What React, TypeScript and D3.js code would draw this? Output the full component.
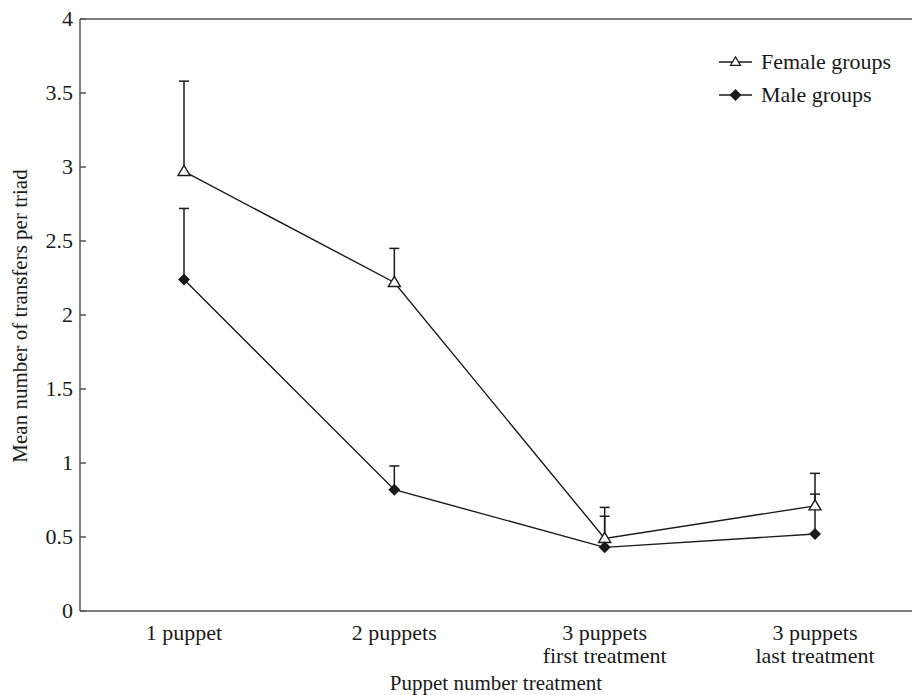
import React from "react";
import * as d3 from "d3";

const categories = ["1 puppet", "2 puppets", "3 puppets first treatment", "3 puppets last treatment"];
const categoryLines = [["1 puppet"], ["2 puppets"], ["3 puppets", "first treatment"], ["3 puppets", "last treatment"]];
const femaleMeans = [2.97, 2.22, 0.49, 0.71];
const femaleUpper = [3.58, 2.45, 0.70, 0.93];
const maleMeans = [2.24, 0.82, 0.43, 0.52];
const maleUpper = [2.72, 0.98, 0.64, 0.79];
const yTicks = [0, 0.5, 1, 1.5, 2, 2.5, 3, 3.5, 4];
const yTickLabels = ["0", "0.5", "1", "1.5", "2", "2.5", "3", "3.5", "4"];

const W = 912, H = 695;
const left = 80, right = 912, top = 19, bottom = 611;
const FONT = "'Liberation Serif', 'Times New Roman', serif";
const AXIS = "#555";
const INK = "#1a1a1a";

const triPath = "M0,-6L6,4L-6,4Z";
const diaPath = "M0,-6L6,0L0,6L-6,0Z";

export default function App() {
  const x = d3.scalePoint<string>().domain(categories).range([184, 815]);
  const y = d3.scaleLinear().domain([0, 4]).range([bottom, top]);
  const line = d3.line<number>().x((_, i) => x(categories[i])!).y((d) => y(d));

  const errBars = (means: number[], ups: number[], key: string) =>
    means.map((m, i) => {
      const cx = x(categories[i])!;
      return (
        <g key={key + i} stroke={INK} strokeWidth={1.5}>
          <line x1={cx} x2={cx} y1={y(m)} y2={y(ups[i])} />
          <line x1={cx - 5} x2={cx + 5} y1={y(ups[i])} y2={y(ups[i])} />
        </g>
      );
    });

  return (
    <svg width={W} height={H} style={{ position: "absolute", left: 0, top: 0, background: "#fff" }} fontFamily={FONT}>
      {/* axes frame */}
      <line x1={left} x2={right} y1={top} y2={top} stroke={AXIS} strokeWidth={1.5} />
      <line x1={left} x2={right} y1={bottom} y2={bottom} stroke={AXIS} strokeWidth={1.5} />
      <line x1={left} x2={left} y1={top} y2={bottom} stroke={AXIS} strokeWidth={1.5} />
      {yTicks.map((t, i) => (
        <g key={"yt" + i}>
          <line x1={left} x2={left + 6} y1={y(t)} y2={y(t)} stroke={AXIS} strokeWidth={1.5} />
          <text x={left - 7} y={y(t)} dy="0.33em" textAnchor="end" fontSize={22} fill={INK}>
            {yTickLabels[i]}
          </text>
        </g>
      ))}
      {categoryLines.map((ls, i) => (
        <text key={"xl" + i} x={x(categories[i])!} y={640} textAnchor="middle" fontSize={22} fill={INK}>
          {ls.map((l, j) => (
            <tspan key={j} x={x(categories[i])!} dy={j === 0 ? 0 : 23}>
              {l}
            </tspan>
          ))}
        </text>
      ))}
      <text x={496} y={690} textAnchor="middle" fontSize={21} fill={INK}>
        Puppet number treatment
      </text>
      <text transform={`translate(27,${316}) rotate(-90)`} textAnchor="middle" fontSize={21} fill={INK}>
        Mean number of transfers per triad
      </text>

      {/* error bars */}
      {errBars(femaleMeans, femaleUpper, "fe")}
      {errBars(maleMeans, maleUpper, "me")}

      {/* lines */}
      <path d={line(femaleMeans)!} fill="none" stroke={INK} strokeWidth={1.4} />
      <path d={line(maleMeans)!} fill="none" stroke={INK} strokeWidth={1.4} />

      {/* markers */}
      {femaleMeans.map((m, i) => (
        <path key={"fm" + i} d={triPath} transform={`translate(${x(categories[i])},${y(m)})`} fill="#fff" stroke={INK} strokeWidth={1.4} />
      ))}
      {maleMeans.map((m, i) => (
        <path key={"mm" + i} d={diaPath} transform={`translate(${x(categories[i])},${y(m)})`} fill={INK} />
      ))}

      {/* legend */}
      <g>
        <line x1={719} x2={752} y1={62} y2={62} stroke={INK} strokeWidth={1.4} />
        <path d={triPath} transform="translate(735.5,62) scale(0.85)" fill="#fff" stroke={INK} strokeWidth={1.4} />
        <text x={761} y={62} dy="0.33em" fontSize={22} fill={INK}>Female groups</text>
        <line x1={719} x2={752} y1={95} y2={95} stroke={INK} strokeWidth={1.4} />
        <path d={diaPath} transform="translate(735.5,95)" fill={INK} />
        <text x={761} y={95} dy="0.33em" fontSize={22} fill={INK}>Male groups</text>
      </g>
    </svg>
  );
}
